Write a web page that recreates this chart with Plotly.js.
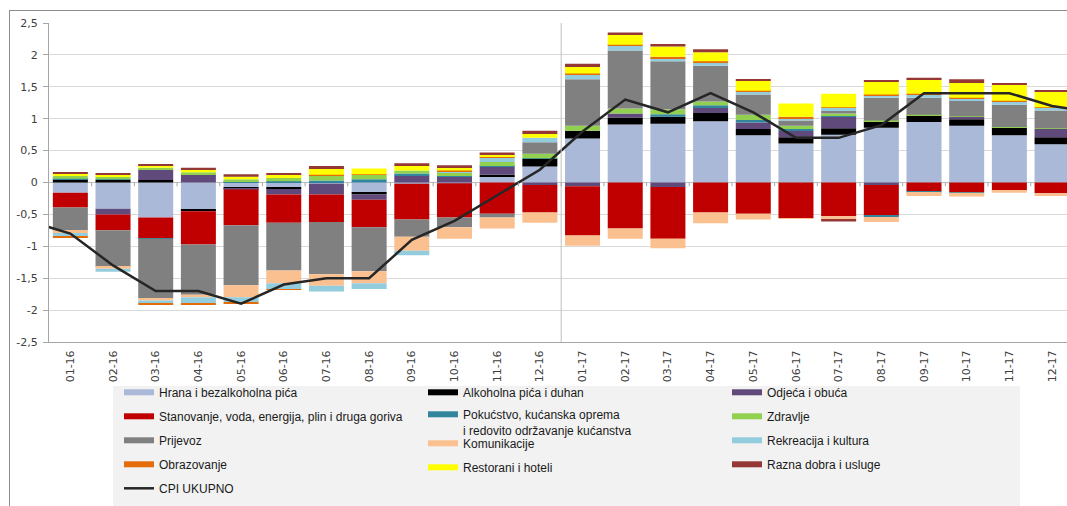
<!DOCTYPE html>
<html><head><meta charset="utf-8">
<script src="https://cdn.plot.ly/plotly-3.0.1.min.js"></script>
<style>
html,body{margin:0;padding:0;background:#fff;}
#wrap{position:relative;width:1067px;height:506px;overflow:hidden;}
#chart{position:absolute;left:0;top:0;width:1067px;height:506px;}
#frame{position:absolute;left:9px;top:10px;width:1100px;height:600px;border:1px solid #8c8c8c;pointer-events:none;}
</style></head><body>
<div id="wrap"><div id="chart"></div><div id="frame"></div></div>
<script>
const months = ['01-16','02-16','03-16','04-16','05-16','06-16','07-16','08-16','09-16','10-16','11-16','12-16',
                '01-17','02-17','03-17','04-17','05-17','06-17','07-17','08-17','09-17','10-17','11-17','12-17'];

const hrana        = [-0.16,-0.41,-0.55,-0.43,-0.08,-0.08,-0.02,-0.16,-0.02,-0.01,0.10,0.25,0.69,0.91,0.92,0.96,0.74,0.61,0.75,0.86,0.95,0.89,0.74,0.60];
const alkohol      = [0.05,0.04,0.04,-0.02,-0.01,-0.02,0,-0.03,0,0,0.02,0.12,0.12,0.11,0.11,0.13,0.10,0.10,0.10,0.10,0.10,0.10,0.12,0.11];
const odjeca       = [0,-0.09,0.16,0.12,-0.02,-0.09,-0.17,-0.08,0.11,0.09,0.13,-0.04,-0.06,0.06,-0.07,0.09,0.10,0.10,0.19,-0.04,0,0.04,0,0.13];
const stanovanje   = [-0.23,-0.25,-0.32,-0.52,-0.56,-0.44,-0.43,-0.43,-0.56,-0.54,-0.49,-0.43,-0.77,-0.72,-0.81,-0.47,-0.49,-0.56,-0.53,-0.48,-0.14,-0.15,-0.12,-0.17];
const pokucstvo    = [0.01,0.01,-0.01,0.01,0.02,0.02,0.03,0.05,0.03,0.01,0.01,0.01,0,0,0.04,0.03,0.04,0.03,0.01,-0.02,-0.01,-0.01,-0.01,0];
const zdravlje     = [0.04,0.05,0.03,0.03,0.03,0.05,0.08,0.07,0.05,0.05,0.06,0.07,0.08,0.08,0.08,0.06,0.08,0.05,0.03,0.01,0.01,0.01,0.01,0.01];
const prijevoz     = [-0.37,-0.57,-0.93,-0.79,-0.94,-0.75,-0.82,-0.69,-0.27,-0.15,-0.06,0.18,0.73,0.91,0.75,0.56,0.32,0.08,0.04,0.36,0.27,0.25,0.35,0.28];
const komunikacije = [-0.03,-0.03,-0.04,-0.04,-0.19,-0.20,-0.18,-0.19,-0.22,-0.18,-0.17,-0.16,-0.16,-0.16,-0.15,-0.17,-0.09,-0.01,-0.05,-0.08,-0.06,-0.06,-0.03,-0.04];
const rekreacija   = [-0.05,-0.05,-0.04,-0.09,-0.08,-0.09,-0.09,-0.09,-0.07,0.03,0.07,0.07,0.08,0.07,0.05,0.05,0.04,0.04,0.05,0.04,0.05,0.03,0.05,0.04];
const obrazovanje  = [-0.02,0,-0.02,-0.02,-0.02,-0.01,0.01,0.01,0,0.01,0.01,0,0.01,0.02,0.02,0.02,0.02,0.02,0.01,0.01,0.01,0.01,0.01,0.01];
const restorani    = [0.04,0.03,0.04,0.04,0.04,0.05,0.09,0.09,0.07,0.05,0.04,0.06,0.10,0.15,0.16,0.14,0.16,0.21,0.21,0.20,0.23,0.23,0.25,0.24];
const razna        = [0.01,0.02,0.02,0.03,0.04,0.03,0.05,0,0.04,0.03,0.03,0.05,0.05,0.04,0.04,0.05,0.01,0,-0.03,0.02,0.02,0.06,0.03,0.02];

const cpiUkupno = [-0.8,-1.3,-1.7,-1.7,-1.9,-1.6,-1.5,-1.5,-0.9,-0.6,-0.2,0.2,0.8,1.3,1.1,1.4,1.1,0.7,0.7,0.9,1.4,1.4,1.4,1.2];
const cpiPrevMonth = -0.6;   // 12-15, the line enters from the left edge
const cpiNextMonth = 1.1;    // 01-18, the line leaves at the right edge

const yTickVals = [-2.5,-2,-1.5,-1,-0.5,0,0.5,1,1.5,2,2.5];
const yTickText = ['-2,5','-2','-1,5','-1','-0,5','0','0,5','1','1,5','2','2,5'];

const series = [
  {name:'Hrana i bezalkoholna pića', y:hrana, color:'#A9B9D7', legend:'legend'},
  {name:'Alkoholna pića i duhan', y:alkohol, color:'#000000', legend:'legend2'},
  {name:'Odjeća i obuća', y:odjeca, color:'#604A7B', legend:'legend3'},
  {name:'Stanovanje, voda, energija, plin i druga goriva', y:stanovanje, color:'#C00000', legend:'legend'},
  {name:'Pokućstvo, kućanska oprema<br>i redovito održavanje kućanstva', y:pokucstvo, color:'#31859C', legend:'legend2'},
  {name:'Zdravlje', y:zdravlje, color:'#92D050', legend:'legend3'},
  {name:'Prijevoz', y:prijevoz, color:'#808080', legend:'legend'},
  {name:'Komunikacije', y:komunikacije, color:'#FAC090', legend:'legend4'},
  {name:'Rekreacija i kultura', y:rekreacija, color:'#93CDDD', legend:'legend3'},
  {name:'Obrazovanje', y:obrazovanje, color:'#E46C0A', legend:'legend'},
  {name:'Restorani i hoteli', y:restorani, color:'#FFFF00', legend:'legend4'},
  {name:'Razna dobra i usluge', y:razna, color:'#953735', legend:'legend3'}
];

const idx = months.map((m,i)=>i);
const traces = [];
series.forEach((s,k)=>{
  traces.push({type:'bar', x:idx, y:s.y, name:s.name, legendgroup:'g'+k, showlegend:false,
    marker:{color:s.color, line:{width:0}}, hovertemplate:'%{y}<extra>'+s.name+'</extra>'});
});
// legend entries (wide bar-like keys as in the original)
series.forEach((s,k)=>{
  traces.push({type:'scatter', mode:'lines', x:[null], y:[null], name:s.name, legendgroup:'g'+k,
    legend:s.legend, line:{color:s.color, width:6}, hoverinfo:'skip'});
});
traces.push({type:'scatter', mode:'lines', name:'CPI UKUPNO', legendgroup:'cpi', legend:'legend',
  x:[-1].concat(idx,[months.length]), y:[cpiPrevMonth].concat(cpiUkupno,[cpiNextMonth]),
  line:{color:'#262626', width:2.5}, cliponaxis:true});

const W=1067, H=506, L=49, T=23, B=164;
const plotW = W-L, plotH = H-T-B;
const px2paperX = p => (p-L)/plotW;
const px2paperY = p => (H-B-p)/plotH;

const shapes = [];
// legend background box
shapes.push({type:'rect', xref:'paper', yref:'paper', layer:'below',
  x0:px2paperX(113), x1:px2paperX(1020), y0:px2paperY(386), y1:px2paperY(520),
  fillcolor:'#F2F2F2', line:{width:0}});
// separator between years
const firstOf2017 = months.findIndex(m=>m.endsWith('-17'));
shapes.push({type:'line', xref:'x', yref:'paper', x0:firstOf2017-0.5, x1:firstOf2017-0.5, y0:0, y1:1,
  line:{color:'#BFBFBF', width:1}});
// category tick marks on the zero line
months.forEach((m,i)=>{
  if(i<months.length-1) shapes.push({type:'line', xref:'x', yref:'y', x0:i+0.5, x1:i+0.5, y0:0, y1:-0.06,
    line:{color:'#A6A6A6', width:1}});
});

const legFont = {family:'Liberation Sans, Arial, sans-serif', size:12, color:'#1a1a1a'};
function leg(xpx, ypx, gap){
  return {orientation:'v', xref:'container', yref:'container', x:xpx/W, y:1-ypx/H,
    xanchor:'left', yanchor:'top', bgcolor:'rgba(0,0,0,0)', borderwidth:0, font:legFont,
    tracegroupgap:gap, valign:'top', traceorder:'grouped'};
}

const layout = {
  width:W, height:H, margin:{l:L, r:0, t:T, b:B, pad:0, autoexpand:false},
  paper_bgcolor:'#ffffff', plot_bgcolor:'#ffffff',
  barmode:'relative', bargap:0.18,
  font:{family:'DejaVu Sans, Verdana, sans-serif', size:11, color:'#404040'},
  xaxis:{range:[-0.5,23.35], tickmode:'array', tickvals:idx, ticktext:months, tickangle:-90,
    showgrid:false, zeroline:false, showline:true, linecolor:'#A6A6A6', linewidth:1,
    ticks:'', ticklabelstandoff:3, automargin:false, tickfont:{family:'DejaVu Sans, Verdana, sans-serif', size:11, color:'#404040'},
    fixedrange:true},
  yaxis:{range:[-2.5,2.5], tickmode:'array', tickvals:yTickVals, ticktext:yTickText, automargin:false,
    showgrid:true, gridcolor:'#D9D9D9', gridwidth:1, zeroline:true, zerolinecolor:'#BFBFBF', zerolinewidth:1,
    showline:true, linecolor:'#A6A6A6', linewidth:1, ticks:'outside', ticklen:5, tickcolor:'#A6A6A6',
    ticklabelstandoff:3, tickfont:{family:'DejaVu Sans, Verdana, sans-serif', size:11, color:'#404040'},
    fixedrange:true},
  legend: leg(119, 378, 5),
  legend2: leg(423, 378, 3),
  legend3: leg(727, 378, 5),
  legend4: leg(423, 429, 5),
  shapes: shapes,
  showlegend:true
};

Plotly.newPlot('chart', traces, layout, {displayModeBar:false, staticPlot:false, responsive:false});
</script>
</body></html>
